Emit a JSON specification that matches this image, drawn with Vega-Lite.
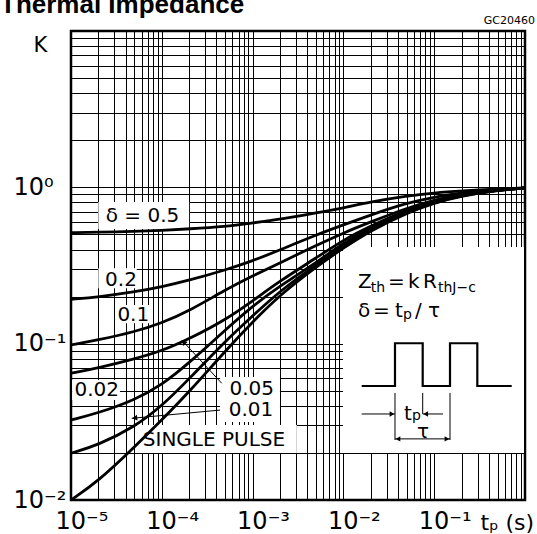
{
  "$schema": "https://vega.github.io/schema/vega-lite/v6.json",
  "width": 454,
  "height": 469,
  "autosize": {"type": "none"},
  "padding": {"left": 71, "top": 31, "right": 12, "bottom": 34},
  "background": "#ffffff",
  "config": {"view": {"stroke": "#000", "strokeWidth": 2.5}, "font": "DejaVu Sans"},
  "encoding": {
    "x": {"field": "x", "type": "quantitative",
      "scale": {"type": "log", "domain": [0.00001, 1], "nice": false},
      "axis": {
        "values": [0.00001,0.00002,0.00003,0.00004,0.00005,0.00006,0.00007,0.00008,0.00009,0.0001,0.0002,0.0003,0.0004,0.0005,0.0006,0.0007,0.0008,0.0009,0.001,0.002,0.003,0.004,0.005,0.006,0.007,0.008,0.009,0.01,0.02,0.03,0.04,0.05,0.06,0.07,0.08,0.09,0.1,0.2,0.3,0.4,0.5,0.6,0.7,0.8,0.9,1],
        "labelExpr": "abs(datum.value - 0.00001) < 0.000000001 ? '10⁻⁵' : abs(datum.value - 0.0001) < 0.00000001 ? '10⁻⁴' : abs(datum.value - 0.001) < 0.0000001 ? '10⁻³' : abs(datum.value - 0.01) < 0.000001 ? '10⁻²' : abs(datum.value - 0.1) < 0.00001 ? '10⁻¹' : ''",
        "title": "tₚ (s)", "titleX": 409, "titleY": 22, "titleAlign": "left", "titleBaseline": "middle",
        "titleFontSize": 22, "titleFontWeight": "normal", "titleFont": "DejaVu Sans", "titleColor": "#000",
        "labelAlign": "left", "labelOffset": -16, "labelBaseline": "middle", "labelPadding": 21,
        "labelFontSize": 24, "labelFont": "DejaVu Sans", "labelColor": "#000",
        "labelFlush": false, "labelOverlap": false, "labelBound": false,
        "grid": true, "gridColor": "#000", "gridWidth": 1, "gridOpacity": 1,
        "ticks": false, "tickSize": 0, "domain": false
      }
    },
    "y": {"field": "y", "type": "quantitative",
      "scale": {"type": "log", "domain": [0.01, 10], "nice": false},
      "axis": {
        "values": [0.01,0.02,0.03,0.04,0.05,0.06,0.07,0.08,0.09,0.1,0.2,0.3,0.4,0.5,0.6,0.7,0.8,0.9,1,2,3,4,5,6,7,8,9,10],
        "labelExpr": "abs(datum.value - 0.01) < 0.000001 ? '10⁻²' : abs(datum.value - 0.1) < 0.00001 ? '10⁻¹' : abs(datum.value - 1) < 0.0001 ? '10⁰' : ''",
        "title": "K", "titleAngle": 0, "titleX": -31, "titleY": 14, "titleAlign": "center", "titleBaseline": "middle",
        "titleFontSize": 21, "titleFontWeight": "normal", "titleFont": "DejaVu Sans", "titleColor": "#000",
        "labelAlign": "left", "labelPadding": 58, "labelBaseline": "middle",
        "labelFontSize": 24, "labelFont": "DejaVu Sans", "labelColor": "#000",
        "labelFlush": false, "labelOverlap": false, "labelBound": false,
        "grid": true, "gridColor": "#000", "gridWidth": 1, "gridOpacity": 1,
        "ticks": false, "tickSize": 0, "domain": false
      }
    }
  },
  "layer": [
    {
      "data": {"values": [
        {"box": "d05", "x": 0.00002, "x2": 0.0002, "y": 0.542, "y2": 0.807},
        {"box": "d02", "x": 0.00002, "x2": 0.000053, "y": 0.2262, "y2": 0.3037},
        {"box": "d01", "x": 0.0000319, "x2": 0.0000741, "y": 0.1351, "y2": 0.1769},
        {"box": "d002", "x": 0.0000103, "x2": 0.0000346, "y": 0.0436, "y2": 0.0586},
        {"box": "d005", "x": 0.000438, "x2": 0.002, "y": 0.0316, "y2": 0.0612},
        {"box": "sp", "x": 0.0000533, "x2": 0.00307, "y": 0.0200, "y2": 0.0302},
        {"box": "inset", "x": 0.0099, "x2": 0.975, "y": 0.0200, "y2": 0.4157}
      ]},
      "mark": {"type": "rect", "fill": "#ffffff", "stroke": null},
      "encoding": {"x2": {"field": "x2"}, "y2": {"field": "y2"}}
    },
    {
      "data": {"values": [
        {"curve": "0.5", "x": 0.00001, "y": 0.513}, {"curve": "0.5", "x": 0.00002, "y": 0.516}, {"curve": "0.5", "x": 0.00005, "y": 0.522}, {"curve": "0.5", "x": 0.0001, "y": 0.530}, {"curve": "0.5", "x": 0.0002, "y": 0.542}, {"curve": "0.5", "x": 0.0005, "y": 0.562}, {"curve": "0.5", "x": 0.001, "y": 0.592}, {"curve": "0.5", "x": 0.002, "y": 0.623}, {"curve": "0.5", "x": 0.005, "y": 0.686}, {"curve": "0.5", "x": 0.01, "y": 0.738}, {"curve": "0.5", "x": 0.02, "y": 0.807}, {"curve": "0.5", "x": 0.05, "y": 0.881}, {"curve": "0.5", "x": 0.1, "y": 0.921}, {"curve": "0.5", "x": 0.2, "y": 0.948}, {"curve": "0.5", "x": 0.5, "y": 0.977}, {"curve": "0.5", "x": 1, "y": 0.991},
        {"curve": "0.2", "x": 0.00001, "y": 0.192}, {"curve": "0.2", "x": 0.00002, "y": 0.199}, {"curve": "0.2", "x": 0.00005, "y": 0.214}, {"curve": "0.2", "x": 0.0001, "y": 0.231}, {"curve": "0.2", "x": 0.0002, "y": 0.254}, {"curve": "0.2", "x": 0.0005, "y": 0.296}, {"curve": "0.2", "x": 0.001, "y": 0.338}, {"curve": "0.2", "x": 0.002, "y": 0.398}, {"curve": "0.2", "x": 0.005, "y": 0.496}, {"curve": "0.2", "x": 0.01, "y": 0.575}, {"curve": "0.2", "x": 0.02, "y": 0.666}, {"curve": "0.2", "x": 0.05, "y": 0.795}, {"curve": "0.2", "x": 0.1, "y": 0.868}, {"curve": "0.2", "x": 0.2, "y": 0.921}, {"curve": "0.2", "x": 0.5, "y": 0.970}, {"curve": "0.2", "x": 1, "y": 0.991},
        {"curve": "0.1", "x": 0.00001, "y": 0.0981}, {"curve": "0.1", "x": 0.00002, "y": 0.1056}, {"curve": "0.1", "x": 0.00005, "y": 0.1189}, {"curve": "0.1", "x": 0.0001, "y": 0.1357}, {"curve": "0.1", "x": 0.0002, "y": 0.1619}, {"curve": "0.1", "x": 0.0005, "y": 0.2207}, {"curve": "0.1", "x": 0.001, "y": 0.2711}, {"curve": "0.1", "x": 0.002, "y": 0.3284}, {"curve": "0.1", "x": 0.005, "y": 0.425}, {"curve": "0.1", "x": 0.01, "y": 0.511}, {"curve": "0.1", "x": 0.02, "y": 0.601}, {"curve": "0.1", "x": 0.05, "y": 0.738}, {"curve": "0.1", "x": 0.1, "y": 0.830}, {"curve": "0.1", "x": 0.2, "y": 0.907}, {"curve": "0.1", "x": 0.5, "y": 0.962}, {"curve": "0.1", "x": 1, "y": 0.991},
        {"curve": "0.05", "x": 0.00001, "y": 0.0647}, {"curve": "0.05", "x": 0.00002, "y": 0.0699}, {"curve": "0.05", "x": 0.00005, "y": 0.0798}, {"curve": "0.05", "x": 0.0001, "y": 0.0898}, {"curve": "0.05", "x": 0.0002, "y": 0.1072}, {"curve": "0.05", "x": 0.0005, "y": 0.1418}, {"curve": "0.05", "x": 0.001, "y": 0.1876}, {"curve": "0.05", "x": 0.002, "y": 0.2519}, {"curve": "0.05", "x": 0.005, "y": 0.3533}, {"curve": "0.05", "x": 0.01, "y": 0.4608}, {"curve": "0.05", "x": 0.02, "y": 0.566}, {"curve": "0.05", "x": 0.05, "y": 0.717}, {"curve": "0.05", "x": 0.1, "y": 0.8185}, {"curve": "0.05", "x": 0.2, "y": 0.894}, {"curve": "0.05", "x": 0.5, "y": 0.9625}, {"curve": "0.05", "x": 1, "y": 0.991},
        {"curve": "0.02", "x": 0.00001, "y": 0.0325}, {"curve": "0.02", "x": 0.00002, "y": 0.0360}, {"curve": "0.02", "x": 0.00005, "y": 0.0436}, {"curve": "0.02", "x": 0.0001, "y": 0.0544}, {"curve": "0.02", "x": 0.0002, "y": 0.0752}, {"curve": "0.02", "x": 0.0005, "y": 0.1224}, {"curve": "0.02", "x": 0.001, "y": 0.1742}, {"curve": "0.02", "x": 0.002, "y": 0.2340}, {"curve": "0.02", "x": 0.005, "y": 0.3284}, {"curve": "0.02", "x": 0.01, "y": 0.4409}, {"curve": "0.02", "x": 0.02, "y": 0.5496}, {"curve": "0.02", "x": 0.05, "y": 0.7063}, {"curve": "0.02", "x": 0.1, "y": 0.8066}, {"curve": "0.02", "x": 0.2, "y": 0.894}, {"curve": "0.02", "x": 0.5, "y": 0.9625}, {"curve": "0.02", "x": 1, "y": 0.991},
        {"curve": "0.01", "x": 0.00001, "y": 0.0199}, {"curve": "0.01", "x": 0.00002, "y": 0.0225}, {"curve": "0.01", "x": 0.00005, "y": 0.0293}, {"curve": "0.01", "x": 0.0001, "y": 0.0399}, {"curve": "0.01", "x": 0.0002, "y": 0.0595}, {"curve": "0.01", "x": 0.0005, "y": 0.1040}, {"curve": "0.01", "x": 0.001, "y": 0.1504}, {"curve": "0.01", "x": 0.002, "y": 0.2174}, {"curve": "0.01", "x": 0.005, "y": 0.3188}, {"curve": "0.01", "x": 0.01, "y": 0.4218}, {"curve": "0.01", "x": 0.02, "y": 0.5418}, {"curve": "0.01", "x": 0.05, "y": 0.696}, {"curve": "0.01", "x": 0.1, "y": 0.800}, {"curve": "0.01", "x": 0.2, "y": 0.888}, {"curve": "0.01", "x": 0.5, "y": 0.9625}, {"curve": "0.01", "x": 1, "y": 0.991},
        {"curve": "single", "x": 0.00001, "y": 0.0100}, {"curve": "single", "x": 0.00002, "y": 0.0132}, {"curve": "single", "x": 0.00005, "y": 0.0218}, {"curve": "single", "x": 0.0001, "y": 0.0325}, {"curve": "single", "x": 0.0002, "y": 0.0491}, {"curve": "single", "x": 0.0005, "y": 0.0898}, {"curve": "single", "x": 0.001, "y": 0.1377}, {"curve": "single", "x": 0.002, "y": 0.2049}, {"curve": "single", "x": 0.005, "y": 0.3095}, {"curve": "single", "x": 0.01, "y": 0.4096}, {"curve": "single", "x": 0.02, "y": 0.5299}, {"curve": "single", "x": 0.05, "y": 0.6858}, {"curve": "single", "x": 0.1, "y": 0.7947}, {"curve": "single", "x": 0.2, "y": 0.881}, {"curve": "single", "x": 0.5, "y": 0.955}, {"curve": "single", "x": 1, "y": 0.991}
      ]},
      "mark": {"type": "line", "color": "#000", "strokeWidth": 2.8, "interpolate": "basis"},
      "encoding": {"detail": {"field": "curve"}}
    },
    {
      "data": {"values": [
        {"label": "δ = 0.5", "x": 0.0000613, "y": 0.656},
        {"label": "0.2", "x": 0.00003555, "y": 0.2556},
        {"label": "0.1", "x": 0.00004854, "y": 0.1527},
        {"label": "0.02", "x": 0.00001919, "y": 0.0502},
        {"label": "0.05", "x": 0.000977, "y": 0.0515},
        {"label": "0.01", "x": 0.00096, "y": 0.0374},
        {"label": "SINGLE PULSE", "x": 0.0003757, "y": 0.0242}
      ]},
      "mark": {"type": "text", "font": "DejaVu Sans", "fontSize": 20, "color": "#000", "align": "center", "baseline": "middle"},
      "encoding": {"text": {"field": "label"}}
    },
    {
      "data": {"values": [
        {"part": "arrow 0.05", "x": 0.000457, "y": 0.0558, "x2": 0.0001656, "y2": 0.1056},
        {"part": "arrow 0.01", "x": 0.000438, "y": 0.0376, "x2": 0.0000466, "y2": 0.0333},
        {"part": "edge 1", "x": 0.0370, "y": 0.0484, "x2": 0.0370, "y2": 0.0242},
        {"part": "edge 2", "x": 0.0747, "y": 0.0484, "x2": 0.0747, "y2": 0.0355},
        {"part": "edge 3", "x": 0.1493, "y": 0.0484, "x2": 0.1493, "y2": 0.0242},
        {"part": "tp left", "x": 0.0159, "y": 0.0355, "x2": 0.0370, "y2": 0.0355},
        {"part": "tp right", "x": 0.125, "y": 0.0355, "x2": 0.0747, "y2": 0.0355},
        {"part": "tau", "x": 0.0370, "y": 0.0246, "x2": 0.1493, "y2": 0.0246}
      ]},
      "mark": {"type": "rule", "color": "#000", "strokeWidth": 1},
      "encoding": {"x2": {"field": "x2"}, "y2": {"field": "y2"}}
    },
    {
      "data": {"values": [
        {"i": 0, "x": 0.0159, "y": 0.0536}, {"i": 1, "x": 0.0370, "y": 0.0536},
        {"i": 2, "x": 0.0370, "y": 0.1006}, {"i": 3, "x": 0.0747, "y": 0.1006},
        {"i": 4, "x": 0.0747, "y": 0.0536}, {"i": 5, "x": 0.1493, "y": 0.0536},
        {"i": 6, "x": 0.1493, "y": 0.1006}, {"i": 7, "x": 0.2984, "y": 0.1006},
        {"i": 8, "x": 0.2984, "y": 0.0536}, {"i": 9, "x": 0.7138, "y": 0.0536}
      ]},
      "mark": {"type": "line", "color": "#000", "strokeWidth": 2.2},
      "encoding": {"order": {"field": "i", "type": "quantitative"}}
    },
    {
      "data": {"values": [
        {"head": "tp left", "x": 0.0343, "y": 0.0355},
        {"head": "tau right", "x": 0.1384, "y": 0.0246}
      ]},
      "mark": {"type": "point", "shape": "triangle-right", "filled": true, "color": "#000", "size": 30, "opacity": 1},
      "encoding": {}
    },
    {
      "data": {"values": [
        {"head": "tp right", "x": 0.0806, "y": 0.0355},
        {"head": "tau left", "x": 0.0399, "y": 0.0246}
      ]},
      "mark": {"type": "point", "shape": "triangle-left", "filled": true, "color": "#000", "size": 30, "opacity": 1},
      "encoding": {}
    },
    {
      "data": {"values": [{"head": "arrow 0.05", "x": 0.0001742, "y": 0.1022}]},
      "mark": {"type": "point", "shape": "triangle-up", "angle": 317, "filled": true, "color": "#000", "size": 35, "opacity": 1},
      "encoding": {}
    },
    {
      "data": {"values": [{"head": "arrow 0.01", "x": 0.0000503, "y": 0.0335}]},
      "mark": {"type": "point", "shape": "triangle-up", "angle": 264.6, "filled": true, "color": "#000", "size": 35, "opacity": 1},
      "encoding": {}
    },
    {
      "data": {"values": [
        {"t": "Z", "x": 0.01448, "y": 0.2262},
        {"t": "=", "x": 0.0310, "y": 0.2262},
        {"t": "k", "x": 0.0515, "y": 0.2262},
        {"t": "R", "x": 0.0753, "y": 0.2262},
        {"t": "δ", "x": 0.01448, "y": 0.1482},
        {"t": "=", "x": 0.0212, "y": 0.1482},
        {"t": "t", "x": 0.0370, "y": 0.1482},
        {"t": "/", "x": 0.0614, "y": 0.1482},
        {"t": "τ", "x": 0.0854, "y": 0.1482},
        {"t": "t", "x": 0.0465, "y": 0.0325},
        {"t": "τ", "x": 0.0646, "y": 0.0250}
      ]},
      "mark": {"type": "text", "font": "DejaVu Sans", "fontSize": 20, "color": "#000", "align": "left", "baseline": "alphabetic"},
      "encoding": {"text": {"field": "t"}}
    },
    {
      "data": {"values": [
        {"t": "th", "x": 0.01998, "y": 0.2141},
        {"t": "thJ−c", "x": 0.1101, "y": 0.2141},
        {"t": "p", "x": 0.0453, "y": 0.1439},
        {"t": "p", "x": 0.0569, "y": 0.0327}
      ]},
      "mark": {"type": "text", "font": "DejaVu Sans", "fontSize": 14, "color": "#000", "align": "left", "baseline": "alphabetic"},
      "encoding": {"text": {"field": "t"}}
    },
    {
      "data": {"values": [{"t": "GC20460", "x": 1.288, "y": 11.6}]},
      "mark": {"type": "text", "font": "DejaVu Sans", "fontSize": 11, "color": "#000", "align": "right", "baseline": "middle"},
      "encoding": {"text": {"field": "t"}}
    },
    {
      "data": {"values": [{"t": "Thermal Impedance", "x": 0.000001652, "y": 13.04}]},
      "mark": {"type": "text", "font": "Liberation Sans", "fontSize": 26, "fontWeight": "bold", "color": "#000", "align": "left", "baseline": "alphabetic"},
      "encoding": {"text": {"field": "t"}}
    }
  ]
}
